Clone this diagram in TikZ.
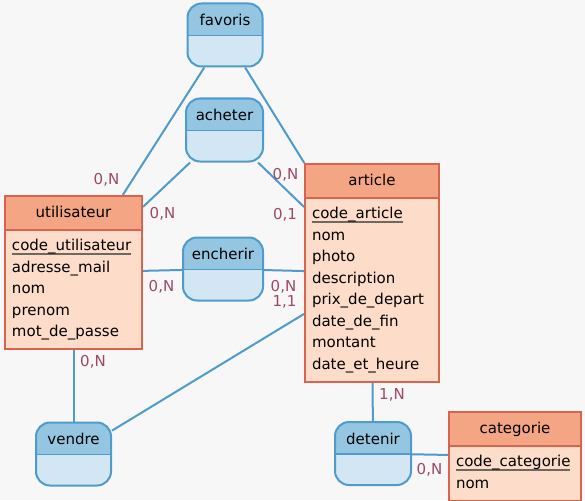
\documentclass[tikz,border=0pt]{standalone}
\usepackage{fontspec}
\setmainfont{DejaVu Sans}
\usetikzlibrary{shapes.multipart}
\definecolor{fond}{HTML}{F7F7F7}
\definecolor{lienbleu}{HTML}{4F9BCB}
\definecolor{relhaut}{HTML}{94C6E2}
\definecolor{relbas}{HTML}{D2E6F3}
\definecolor{enthaut}{HTML}{F4A584}
\definecolor{entbas}{HTML}{FDDCC9}
\definecolor{entbord}{HTML}{D9634C}
\definecolor{cardcol}{HTML}{9E4868}
\definecolor{soulign}{HTML}{6E6862}
\newcommand{\cle}[1]{\setbox0\hbox{#1}\rlap{\color{soulign}\rule[-4pt]{\wd0}{1.8pt}}#1}

\begin{document}
\begin{tikzpicture}[x=1pt,y=-1pt,font=\fontsize{15}{21.5}\selectfont,
                    lien/.style={draw=lienbleu,line width=2pt}]
  \tikzstyle{relation}=[draw=lienbleu,line width=2pt,fill=relbas,rounded corners=14pt,
      minimum width=76pt,inner xsep=0pt,inner ysep=0pt,text height=22pt,text depth=41pt,
      path picture={\fill[relhaut,sharp corners] (path picture bounding box.north west)
          rectangle ([yshift=-32pt]path picture bounding box.north east);
        \draw[lienbleu,line width=1.5pt,sharp corners] ([yshift=-32pt]path picture bounding box.north west)
          -- ([yshift=-32pt]path picture bounding box.north east);}]
  \tikzstyle{entite}=[rectangle split,rectangle split parts=2,draw=entbord,line width=2pt,
      rectangle split part fill={enthaut,entbas},inner xsep=7pt,inner ysep=5pt,
      anchor=north,align=left]
  \tikzstyle{card}=[text=cardcol,inner sep=0pt]

  \fill[fond] (0,0) rectangle (585,500);
  \useasboundingbox (0,0) rectangle (585,500);

  % entites
  \node[entite,text width=123pt] (utilisateur) at (73.5,195)
    {\hfill\strut utilisateur\hfill\null
     \nodepart{two}\strut\cle{code\_utilisateur}\\ adresse\_mail\\ nom\\ prenom\\ mot\_de\_passe\strut};
  \node[entite,text width=120pt] (article) at (372,163)
    {\hfill\strut article\hfill\null
     \nodepart{two}\strut\cle{code\_article}\\ nom\\ photo\\ description\\ prix\_de\_depart\\
     date\_de\_fin\\ montant\\ date\_et\_heure\strut};
  \node[entite,text width=118pt] (categorie) at (515,411)
    {\hfill\strut categorie\hfill\null
     \nodepart{two}\strut\cle{code\_categorie}\\ nom\strut};

  % associations
  \node[relation,minimum width=75pt] (favoris) at (225,35) {favoris};
  \node[relation,minimum width=77pt] (acheter) at (224.5,130) {acheter};
  \node[relation,minimum width=80pt] (encherir) at (223,269) {encherir};
  \node[relation,minimum width=75pt] (vendre) at (73.5,454) {vendre};
  \node[relation,minimum width=76pt] (detenir) at (373,453.5) {detenir};

  \draw[lien]
        (favoris) edge (utilisateur)
        (favoris) edge (article)
        (acheter) edge (utilisateur)
        (acheter) edge (article)
        (encherir) edge (utilisateur)
        (encherir) edge (article)
        (vendre) edge (utilisateur)
        (vendre) edge (article)
        (detenir) edge (article)
        (detenir) edge (categorie);

  % cardinalites
  \node[card] (c1) at (106.5,180) {0,N};
  \node[card] (c2) at (285.5,175) {0,N};
  \node[card] (c3) at (162.5,214) {0,N};
  \node[card] (c4) at (285,215) {0,1};
  \node[card] (c5) at (161.5,287) {0,N};
  \node[card] (c6) at (283.5,287) {0,N};
  \node[card] (c7) at (284.5,302) {1,1};
  \node[card] (c8) at (93,362) {0,N};
  \node[card] (c9) at (392,395) {1,N};
  \node[card] (c10) at (429.5,470) {0,N};
\end{tikzpicture}
\end{document}
